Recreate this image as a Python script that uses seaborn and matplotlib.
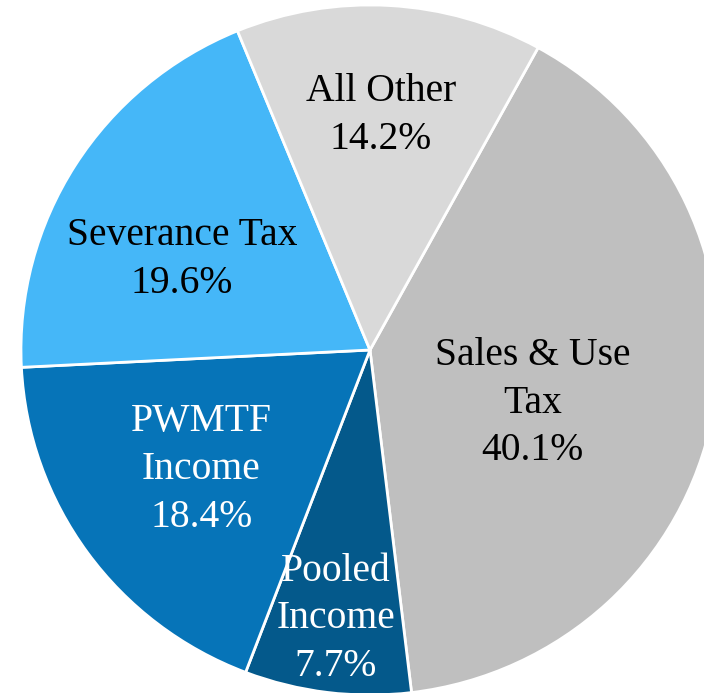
import numpy as np
import matplotlib
matplotlib.use("Agg")
import matplotlib.pyplot as plt
import seaborn as sns

# Data (clockwise from upper right)
labels = ["Sales & Use\nTax", "Pooled\nIncome", "PWMTF\nIncome", "Severance Tax", "All Other"]
shares = [40.1, 7.7, 18.4, 19.6, 14.2]
colors = ["#BFBFBF", "#04598B", "#0674B8", "#45B7F8", "#D9D9D9"]
text_colors = ["black", "white", "white", "black", "black"]
# label placement (radius, angle nudge in degrees)
label_radius = [0.49, 0.785, 0.595, 0.60, 0.68]
label_nudge = [-7.4, -0.2, -0.4, 6.4, 0.6]

sns.set_theme(style="white")
plt.rcParams['font.family'] = ['Liberation Serif', 'DejaVu Serif']

fig = plt.figure(figsize=(7.04, 6.93), dpi=100)
ax = fig.add_axes([0.0298, -0.0029, 0.9915, 0.9957])

wedges, _ = ax.pie(shares, colors=colors, startangle=61.2, counterclock=False,
                   radius=1.0, wedgeprops=dict(edgecolor="white", linewidth=2))
ax.set_aspect("auto")
ax.set_xlim(-1, 1)
ax.set_ylim(-1, 1)

for w, lab, val, tc, r, nd in zip(wedges, labels, shares, text_colors, label_radius, label_nudge):
    ang = np.deg2rad((w.theta1 + w.theta2) / 2 + nd)
    ax.text(r * np.cos(ang), r * np.sin(ang), f"{lab}\n{val:.1f}%",
            ha="center", va="center", fontsize=28.5, color=tc, linespacing=1.38)

fig.savefig("out.png", dpi=100)
